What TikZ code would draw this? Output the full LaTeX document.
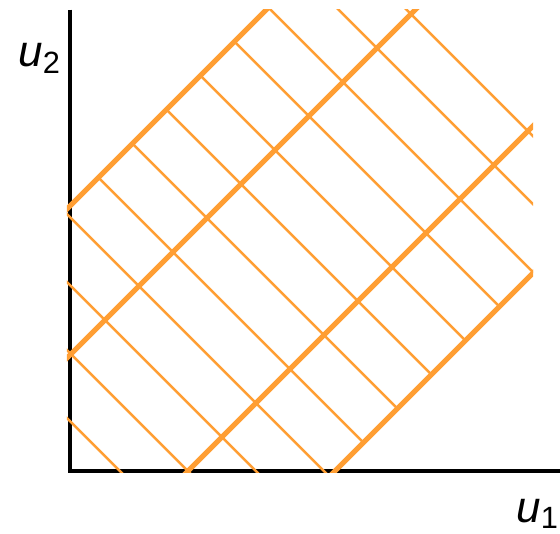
\documentclass[tikz,border=0pt]{standalone}
\usepackage{fontspec}
\setmainfont{Liberation Sans}
\usetikzlibrary{positioning}
\definecolor{bandorange}{RGB}{255,158,51}
\tikzset{
  axisline/.style={draw=black, line width=0.95pt},
  bandline/.style={draw=bandorange, line width=1.45pt},
  hatchline/.style={draw=bandorange, line width=0.7pt},
  axislabel/.style={font=\fontsize{12.5}{14}\selectfont, inner sep=0pt}
}

\begin{document}
\begin{tikzpicture}
  \useasboundingbox (-0.70,-0.62) rectangle (4.90,4.71);
  \draw[axisline] (0,4.615) -- (0,0) -- (4.90,0);
  \begin{scope}
    \clip (-0.03,-0.01) rectangle (4.63,4.62);
    \foreach \i [evaluate=\i as \k using 0.5+0.68*\i] in {0,...,11}
      \draw[hatchline] ({(\k-2.65)/2},{(\k+2.65)/2}) -- ({(\k+2.65)/2},{(\k-2.65)/2});
    \foreach \m in {-2.65,-1.16,1.18,2.65}
      \draw[bandline] ({\m-1},-1) -- ({\m+6},6);
  \end{scope}
  \node[axislabel] (utwo) at (-0.30,4.13) {\textit{u}\textsubscript{2}};
  \node[axislabel] (uone) at (4.68,-0.43) {\textit{u}\textsubscript{1}};
\end{tikzpicture}
\end{document}
